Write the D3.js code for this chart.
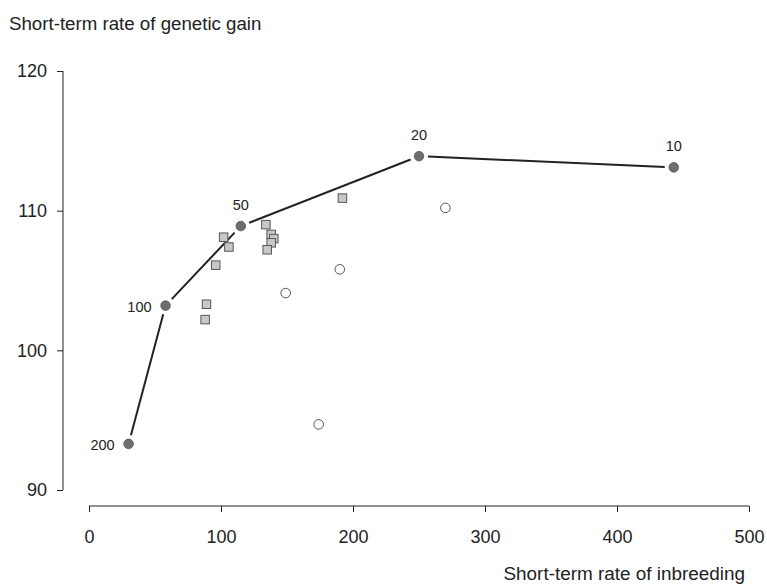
<!DOCTYPE html>
<html>
<head>
<meta charset="utf-8">
<script src="https://cdn.jsdelivr.net/npm/d3@7"></script>
<style>
  body { margin: 0; background: #fff; }
  text { font-family: "Liberation Sans", Arial, sans-serif; fill: #222; }
</style>
</head>
<body>
<div id="wrapper"></div>
<script>
// family sizes on the connected curve
const curveLabels = ["200", "100", "50", "20", "10"];
const curveX = [30, 58, 115, 250, 443];
const curveY = [93.3, 103.2, 108.9, 113.9, 113.1];

// grey squares
const squareX = [102, 106, 96, 89, 88, 134, 138, 140, 138, 135, 192];
const squareY = [108.1, 107.4, 106.1, 103.3, 102.2, 109.0, 108.3, 108.0, 107.7, 107.2, 110.9];

// open circles
const openX = [149, 190, 174, 270];
const openY = [104.1, 105.8, 94.7, 110.2];

const xTicks = [0, 100, 200, 300, 400, 500];
const yTicks = [90, 100, 110, 120];

const dimension = {
    width: 767,
    height: 586
};

const svg = d3.select("#wrapper").append("svg")
    .attr("width", dimension.width)
    .attr("height", dimension.height);

const xScaler = d3.scaleLinear().domain([0, 500]).range([89, 749]);
const yScaler = d3.scaleLinear().domain([90, 120]).range([490, 71]);

// y axis
const yAxis = d3.axisLeft(yScaler).tickValues(yTicks).tickSize(6).tickPadding(10);
const gy = svg.append("g").attr("transform", "translate(63,0)").call(yAxis);
gy.select(".domain").attr("d", `M0,${yScaler(90)}V${yScaler(120)}`);

// x axis
const xAxis = d3.axisBottom(xScaler).tickValues(xTicks).tickSize(6).tickPadding(18);
const gx = svg.append("g").attr("transform", "translate(0,506)").call(xAxis);
gx.select(".domain").attr("d", `M${xScaler(0)},0H${xScaler(500)}`);

svg.selectAll(".domain, .tick line").attr("stroke", "#222").attr("stroke-width", 1);
svg.selectAll(".tick text").style("font-size", "18px").attr("fill", "#222");

// titles
svg.append("text").attr("x", 9).attr("y", 30).style("font-size", "18.7px")
    .text("Short-term rate of genetic gain");
svg.append("text").attr("x", 745).attr("y", 580).attr("text-anchor", "end").style("font-size", "18.9px")
    .text("Short-term rate of inbreeding");

// connecting line with gaps around points
const curve = curveX.map((x, i) => ({ x: xScaler(x), y: yScaler(curveY[i]), label: curveLabels[i] }));
const gap = 9;
for (let i = 0; i < curve.length - 1; i++) {
    const a = curve[i], b = curve[i + 1];
    const dx = b.x - a.x, dy = b.y - a.y, len = Math.hypot(dx, dy);
    const ux = dx / len, uy = dy / len;
    svg.append("line")
        .attr("x1", a.x + ux * gap).attr("y1", a.y + uy * gap)
        .attr("x2", b.x - ux * gap).attr("y2", b.y - uy * gap)
        .attr("stroke", "#222").attr("stroke-width", 2);
}

// squares
const sq = 8.5;
svg.selectAll(".sq").data(squareX).enter().append("rect")
    .attr("x", (d) => xScaler(d) - sq / 2)
    .attr("y", (d, i) => yScaler(squareY[i]) - sq / 2)
    .attr("width", sq).attr("height", sq)
    .attr("fill", "#c8c8c8").attr("stroke", "#555").attr("stroke-width", 1);

// open circles
svg.selectAll(".oc").data(openX).enter().append("circle")
    .attr("cx", (d) => xScaler(d))
    .attr("cy", (d, i) => yScaler(openY[i]))
    .attr("r", 4.8)
    .attr("fill", "#fff").attr("stroke", "#555").attr("stroke-width", 1);

// filled circles
svg.selectAll(".fc").data(curve).enter().append("circle")
    .attr("cx", (d) => d.x).attr("cy", (d) => d.y).attr("r", 4.8)
    .attr("fill", "#6e6e6e").attr("stroke", "#555").attr("stroke-width", 0.8);

// point labels
svg.selectAll(".lbl").data(curve).enter().append("text")
    .attr("x", (d, i) => i < 2 ? d.x - 14 : d.x)
    .attr("y", (d, i) => i < 2 ? d.y + 6 : d.y - 16)
    .attr("text-anchor", (d, i) => i < 2 ? "end" : "middle")
    .style("font-size", "14.5px")
    .text((d) => d.label);
</script>
</body>
</html>
